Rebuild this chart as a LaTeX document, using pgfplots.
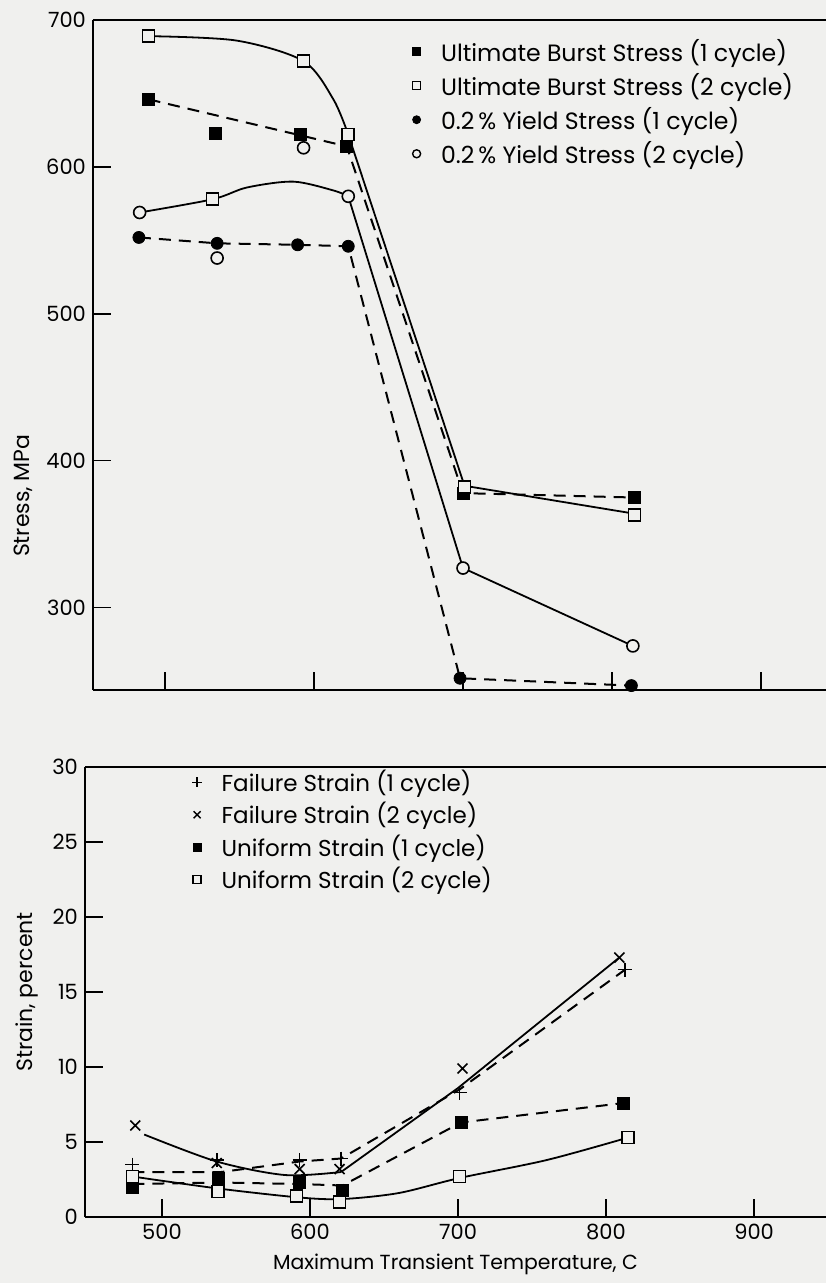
\documentclass[border=0pt]{standalone}
\usepackage{fontspec}
\setmainfont{Poppins}
\usepackage{pgfplots}
\pgfplotsset{compat=1.18}
\definecolor{bg}{RGB}{240,240,238}
\pgfplotsset{
  common/.style={
    scale only axis,
    axis x line*=box, axis y line*=left,
    xtick pos=bottom, ytick pos=left,
    tick align=inside, major tick length=9pt,
    axis line style={line width=1.3pt, -},
    every tick/.style={line width=0.7pt, black},
    /pgf/number format/assume math mode=true,
    /pgf/number format/1000 sep={},
    tick label style={font=\fontsize{10.5}{12}\selectfont},
    ylabel style={font=\fontsize{11}{12}\selectfont},
    xlabel style={font=\fontsize{10.2}{12}\selectfont},
    clip=false,
    legend cell align=left,
    legend image code/.code={\path[draw=none, fill=none] (-0.1cm,-0.1cm) rectangle (0.36cm,0.1cm); \draw[##1] plot coordinates {(0cm,0cm)};},
  },
  sol/.style={line width=0.9pt, black, no marks},
  das/.style={line width=1.0pt, black, no marks, dash pattern=on 6pt off 4pt},
  fsq/.style={only marks, mark=square*, mark size=3pt, mark options={fill=black, draw=black}},
  osq/.style={only marks, mark=square*, mark size=3pt, mark options={fill=bg, draw=black, line width=0.8pt}},
  fci/.style={only marks, mark=*, mark size=3pt, mark options={fill=black, draw=black}},
  oci/.style={only marks, mark=*, mark size=3pt, mark options={fill=bg, draw=black, line width=0.8pt}},
}
\begin{document}
\begin{tikzpicture}
\fill[bg] (0pt,0pt) rectangle (413pt,-641.5pt);
\path[use as bounding box] (0pt,0pt) rectangle (413pt,-641.5pt);

% ---------------- top panel: stress ----------------
\begin{axis}[common,
  at={(46.5pt,-345pt)}, anchor=south west,
  width=366.5pt, height=335pt,
  xmin=451.7, xmax=943.6, ymin=244, ymax=700,
  xtick={500,600,700,800,900}, xticklabels={},
  ytick={300,400,500,600,700},
  ylabel={Stress, MPa},
  ylabel style={at={(ticklabel cs:0.29)}},
  legend style={at={(0.425,0.984)}, anchor=north west, draw=none, fill=none,
    font=\fontsize{11.8}{13}\selectfont, row sep=0.5pt},
]
\addlegendimage{only marks, mark=square*, mark size=2pt, mark options={fill=black}}
\addlegendentry{Ultimate Burst Stress (1 cycle)}
\addlegendimage{only marks, mark=square, mark size=2pt, line width=0.7pt}
\addlegendentry{Ultimate Burst Stress (2 cycle)}
\addlegendimage{only marks, mark=*, mark size=2pt, mark options={fill=black}}
\addlegendentry{0.2\,\% Yield Stress (1 cycle)}
\addlegendimage{only marks, mark=o, mark size=2pt, line width=0.7pt}
\addlegendentry{0.2\,\% Yield Stress (2 cycle)}

% ultimate 2 cycle (solid curve)
\addplot[sol, smooth, forget plot] coordinates {(489,689) (548,686) (593,672) (613,646) (623,622)};
\addplot[sol, forget plot] coordinates {(623,622) (701,383) (815,364)};
% ultimate 1 cycle (dashed)
\addplot[das, forget plot] coordinates {(489,646) (622,614) (700,378) (815,375)};
% yield 1 cycle (dashed)
\addplot[das, forget plot] coordinates {(482.5,552) (535,548) (589,547) (623,546) (698,252) (813,247)};
% yield 2 cycle (solid curve)
\addplot[sol, smooth, forget plot] coordinates {(483,569) (532,578) (555,586) (586,590) (613,584) (623,580)};
\addplot[sol, forget plot] coordinates {(623,580) (700,327) (814,274)};

% marks
\addplot[fsq, forget plot] coordinates {(489,646) (534,623) (591,622) (622,614) (700,378) (815,375)};
\addplot[osq, forget plot] coordinates {(489,689) (532,578) (593,672) (623,622) (701,382) (815,363)};
\addplot[fci, forget plot] coordinates {(482.5,552) (535,548) (589,547) (623,546) (698,252) (813,247)};
\addplot[oci, forget plot] coordinates {(483,569) (535,538) (593,613) (623,580) (700,327) (814,274)};
\end{axis}

% ---------------- bottom panel: strain ----------------
\begin{axis}[common,
  at={(42.5pt,-608.5pt)}, anchor=south west,
  width=370.5pt, height=225pt,
  xmin=448, xmax=948.6, ymin=0, ymax=30,
  xtick={500,600,700,800,900},
  ytick={0,5,10,15,20,25,30},
  xlabel={Maximum Transient Temperature, C},
  ylabel={Strain, percent},
  legend style={at={(0.135,1.012)}, anchor=north west, draw=none, fill=none,
    font=\fontsize{11.5}{13}\selectfont, row sep=0pt},
]
\addlegendimage{only marks, mark=+, mark size=2.5pt, line width=0.7pt}
\addlegendentry{Failure Strain (1 cycle)}
\addlegendimage{only marks, mark=x, mark size=2.5pt, line width=0.7pt}
\addlegendentry{Failure Strain (2 cycle)}
\addlegendimage{only marks, mark=square*, mark size=2pt, mark options={fill=black}}
\addlegendentry{Uniform Strain (1 cycle)}
\addlegendimage{only marks, mark=square, mark size=2pt, line width=0.7pt}
\addlegendentry{Uniform Strain (2 cycle)}

% failure 2 cycle (solid)
\addplot[sol, smooth, forget plot] coordinates {(488,5.5) (537,3.7) (583,2.8) (621,3.0)};
\addplot[sol, forget plot] coordinates {(621,3.0) (700,8.6) (809,17.3)};
% failure 1 cycle (dashed)
\addplot[das, forget plot] coordinates {(480,3.0) (540,3.0) (593,3.7) (621,3.9) (701,8.5) (813,16.5)};
% uniform 1 cycle (dashed)
\addplot[das, forget plot] coordinates {(480,2.2) (540,2.3) (593,2.2) (622,2.1) (702,6.3) (812,7.6)};
% uniform 2 cycle (solid curve)
\addplot[sol, smooth, forget plot] coordinates {(480,2.7) (538,1.9) (593,1.3) (622,1.2) (660,1.6) (701,2.6) (760,3.8) (815,5.3)};

% marks
\addplot[only marks, mark=x, mark size=3.5pt, line width=0.8pt, forget plot] coordinates {(482,6.1) (537,3.6) (593,3.2) (620,3.2) (703,9.9) (809,17.3)};
\addplot[only marks, mark=+, mark size=3.5pt, line width=0.8pt, forget plot] coordinates {(480,3.5) (537,3.8) (593,3.8) (621,3.9) (701,8.3) (813,16.5)};
\addplot[fsq, forget plot] coordinates {(480,2.0) (538,2.6) (593,2.3) (622,1.8) (702,6.3) (812,7.6)};
\addplot[osq, forget plot] coordinates {(480,2.7) (538,1.7) (591,1.4) (620,1.0) (701,2.7) (815,5.3)};
\end{axis}
\end{tikzpicture}
\end{document}
